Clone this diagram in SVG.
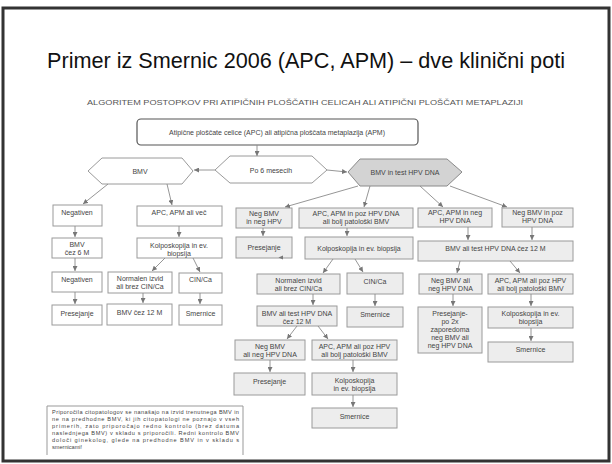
<svg xmlns="http://www.w3.org/2000/svg" width="612" height="464" viewBox="0 0 612 464">
<defs>
<style>
.t{font-family:"Liberation Sans",Arial,sans-serif;font-size:7px;fill:#444;text-anchor:middle}
.b{fill:#fff;stroke:#9a9a9a;stroke-width:1}
.g{fill:#ededed;stroke:#9a9a9a;stroke-width:1}
.c line{stroke:#8a8a8a;stroke-width:0.9;marker-end:url(#ah)}
</style>
<marker id="ah" viewBox="0 0 10 10" refX="10" refY="5" markerWidth="5" markerHeight="5" markerUnits="userSpaceOnUse" orient="auto">
<path d="M0,0 L10,5 L0,10 z" fill="#777"/>
</marker>
</defs>
<rect x="0" y="0" width="612" height="464" fill="#fff"/>
<rect x="3" y="8" width="606" height="453" fill="none" stroke="#333" stroke-width="3"/>
<text x="306" y="68" font-family="'Liberation Sans',Arial,sans-serif" font-size="22" fill="#111" text-anchor="middle" textLength="518" lengthAdjust="spacingAndGlyphs">Primer iz Smernic 2006 (APC, APM) – dve klinični poti</text>
<text x="305" y="105" font-family="'Liberation Sans',Arial,sans-serif" font-size="7.5" fill="#555" text-anchor="middle" textLength="436" lengthAdjust="spacingAndGlyphs">ALGORITEM POSTOPKOV PRI ATIPIČNIH PLOŠČATIH CELICAH ALI ATIPIČNI PLOŠČATI METAPLAZIJI</text>

<g id="top"><rect x="137" y="119" width="281" height="26" rx="4" fill="#fff" stroke="#555" stroke-width="1.2"/><text class="t" x="277" y="134.5">Atipične ploščate celice (APC) ali atipična ploščata metaplazija (APM)</text></g>
<g id="hexBMV"><polygon class="b" points="88,171 102,158 182,158 193,171 182,184 102,184"/><text class="t" x="140" y="173.5">BMV</text></g>
<g id="hexPo6"><polygon class="b" points="215,170 230,156 312,156 327,170 312,183 230,183"/><text class="t" x="271" y="172.5">Po 6 mesecih</text></g>
<g id="hexTest"><polygon fill="#d3d3d3" stroke="#8a8a8a" stroke-width="1" points="348,172 360,159 447,159 462,172 447,186 360,186"/><text class="t" x="405" y="174.5">BMV in test HPV DNA</text></g>

<g id="L1"><rect class="b" x="53" y="205" width="49" height="21"/><text class="t" x="77" y="215">Negativen</text></g>
<g id="L2"><rect class="b" x="137" y="206" width="85" height="20"/><text class="t" x="179" y="215">APC, APM ali  več</text></g>
<g id="L3"><rect class="b" x="52" y="238" width="50" height="20"/><text class="t" x="77" y="246.5">BMV</text><text class="t" x="77" y="254.5">čez 6 M</text></g>
<g id="L4"><rect class="b" x="52" y="272" width="50" height="20"/><text class="t" x="77" y="281.5">Negativen</text></g>
<g id="L5"><rect class="b" x="52" y="305" width="50" height="20"/><text class="t" x="77" y="315.5">Presejanje</text></g>
<g id="L6"><rect class="b" x="137" y="238" width="85" height="20"/><text class="t" x="179" y="247.5">Kolposkopija in ev.</text><text class="t" x="179" y="255.5">biopsija</text></g>
<g id="L7"><rect class="b" x="108" y="272" width="64" height="21"/><text class="t" x="140" y="280.5">Normalen izvid</text><text class="t" x="140" y="288.5">ali brez CIN/Ca</text></g>
<g id="L8"><rect class="b" x="179" y="273" width="43" height="20"/><text class="t" x="200.5" y="282">CIN/Ca</text></g>
<g id="L9"><rect class="b" x="107" y="304" width="65" height="21"/><text class="t" x="139.5" y="314.5">BMV čez 12 M</text></g>
<g id="L10"><rect class="b" x="179" y="305" width="43" height="20"/><text class="t" x="200.5" y="315.5">Smernice</text></g>

<g id="M1"><rect class="g" x="236" y="208" width="56" height="20"/><text class="t" x="264" y="215.5">Neg BMV</text><text class="t" x="264" y="223.5">in neg HPV</text></g>
<g id="M2"><rect class="g" x="299" y="208" width="114" height="20"/><text class="t" x="356" y="215.5">APC, APM in poz HPV DNA</text><text class="t" x="356" y="223.5">ali bolj patološki BMV</text></g>
<g id="M3"><rect class="g" x="236" y="237" width="56" height="21"/><text class="t" x="264" y="249.5">Presejanje</text></g>
<g id="M4"><rect class="g" x="305" y="237" width="108" height="22"/><text class="t" x="359" y="250.5">Kolposkopija in ev. biopsija</text></g>
<g id="M5"><rect class="g" x="257" y="274" width="83" height="20"/><text class="t" x="298.5" y="282.5">Normalen izvid</text><text class="t" x="298.5" y="290.5">ali brez CIN/Ca</text></g>
<g id="M6"><rect class="g" x="347" y="273" width="56" height="21"/><text class="t" x="375" y="283.5">CIN/Ca</text></g>
<g id="M7"><rect class="g" x="257" y="306" width="80" height="20"/><text class="t" x="297" y="315.5">BMV ali test HPV DNA</text><text class="t" x="297" y="323.5">čez 12  M</text></g>
<g id="M8"><rect class="g" x="347" y="307" width="56" height="20"/><text class="t" x="375" y="316.5">Smernice</text></g>
<g id="M9"><rect class="g" x="235" y="340" width="70" height="20"/><text class="t" x="270" y="348.5">Neg BMV</text><text class="t" x="270" y="356.5">ali neg HPV DNA</text></g>
<g id="M10"><rect class="g" x="312" y="340" width="85" height="20"/><text class="t" x="354.5" y="348.5">APC, APM ali poz HPV</text><text class="t" x="354.5" y="356.5">ali bolj patološki BMV</text></g>
<g id="M11"><rect class="g" x="234" y="373" width="71" height="22"/><text class="t" x="269.5" y="383.5">Presejanje</text></g>
<g id="M12"><rect class="g" x="312" y="373" width="85" height="22"/><text class="t" x="354.5" y="382.5">Kolposkopija</text><text class="t" x="354.5" y="390.5">in ev. biopsija</text></g>
<g id="M13"><rect class="g" x="312" y="408" width="85" height="20"/><text class="t" x="354.5" y="418.5">Smernice</text></g>

<g id="R1"><rect class="g" x="418" y="208" width="74" height="19"/><text class="t" x="455" y="215">APC, APM in neg</text><text class="t" x="455" y="223">HPV DNA</text></g>
<g id="R2"><rect class="g" x="502" y="208" width="71" height="19"/><text class="t" x="537.5" y="215">Neg BMV in poz</text><text class="t" x="537.5" y="223">HPV DNA</text></g>
<g id="R3"><rect class="g" x="418" y="241" width="155" height="20"/><text class="t" x="495.5" y="250.5">BMV ali test HPV DNA čez 12 M</text></g>
<g id="R4"><rect class="g" x="419" y="274" width="63" height="20"/><text class="t" x="450.5" y="282.5">Neg BMV ali</text><text class="t" x="450.5" y="290.5">neg HPV DNA</text></g>
<g id="R5"><rect class="g" x="488" y="274" width="85" height="20"/><text class="t" x="530.5" y="282.5">APC, APM ali poz HPV</text><text class="t" x="530.5" y="290.5">ali bolj patološki BMV</text></g>
<g id="R6"><rect class="g" x="418" y="307" width="64" height="46"/><text class="t" x="450" y="315.5">Presejanje-</text><text class="t" x="450" y="323.5">po 2x</text><text class="t" x="450" y="331.5">zaporedoma</text><text class="t" x="450" y="339.5">neg BMV ali</text><text class="t" x="450" y="347.5">neg HPV DNA</text></g>
<g id="R7"><rect class="g" x="488" y="307" width="85" height="21"/><text class="t" x="530.5" y="315.5">Kolposkopija in ev.</text><text class="t" x="530.5" y="323.5">biopsija</text></g>
<g id="R8"><rect class="g" x="488" y="342" width="85" height="20"/><text class="t" x="530.5" y="351.5">Smernice</text></g>

<g id="note"><path d="M47,455 V406 H243 V455" fill="#fff" stroke="#999" stroke-width="1"/>
<g font-family="'Liberation Sans',Arial,sans-serif" font-size="5.6" fill="#444">
<text x="52" y="414" textLength="187" lengthAdjust="spacing">Priporočila citopatologov se nanašajo na izvid trenutnega BMV in</text>
<text x="52" y="421" textLength="187" lengthAdjust="spacing">ne na predhodne BMV, ki jih citopatologi ne poznajo v vseh</text>
<text x="52" y="428" textLength="187" lengthAdjust="spacing">primerih, zato priporočajo redno kontrolo (brez datuma</text>
<text x="52" y="435" textLength="187" lengthAdjust="spacing">naslednjega BMV) v skladu s priporočili. Redni kontrolo BMV</text>
<text x="52" y="442" textLength="187" lengthAdjust="spacing">določi ginekolog, glede na predhodne BMV in v skladu s</text>
<text x="52" y="449">smernicami!</text>
</g></g>

<g id="connectors" class="c">
<line x1="257" y1="145" x2="257" y2="156"/>
<line x1="215" y1="170" x2="194" y2="170"/>
<line x1="327" y1="170" x2="347" y2="172"/>
<line x1="108" y1="184" x2="83" y2="204"/>
<line x1="167" y1="184" x2="172" y2="205"/>
<line x1="75" y1="226" x2="75" y2="237"/>
<line x1="75" y1="258" x2="75" y2="271"/>
<line x1="75" y1="292" x2="75" y2="304"/>
<line x1="179" y1="226" x2="179" y2="237"/>
<line x1="165" y1="258" x2="152" y2="271"/>
<line x1="193" y1="258" x2="200" y2="272"/>
<line x1="143" y1="293" x2="143" y2="303"/>
<line x1="200" y1="293" x2="200" y2="304"/>
<line x1="358" y1="186" x2="285" y2="207"/>
<line x1="370" y1="186" x2="364" y2="207"/>
<line x1="263" y1="228" x2="263" y2="236"/>
<line x1="347" y1="228" x2="347" y2="236"/>
<line x1="333" y1="259" x2="323" y2="273"/>
<line x1="355" y1="259" x2="363" y2="272"/>
<line x1="313" y1="294" x2="313" y2="305"/>
<line x1="375" y1="294" x2="375" y2="306"/>
<line x1="297" y1="326" x2="287" y2="339"/>
<line x1="318" y1="326" x2="328" y2="339"/>
<line x1="270" y1="360" x2="270" y2="372"/>
<line x1="353" y1="360" x2="353" y2="372"/>
<line x1="353" y1="395" x2="353" y2="407"/>
<line x1="420" y1="186" x2="443" y2="207"/>
<line x1="450" y1="186" x2="507" y2="207"/>
<line x1="468" y1="227" x2="468" y2="240"/>
<line x1="532" y1="227" x2="532" y2="240"/>
<line x1="460" y1="261" x2="457" y2="273"/>
<line x1="510" y1="261" x2="520" y2="273"/>
<line x1="453" y1="294" x2="453" y2="306"/>
<line x1="531" y1="294" x2="531" y2="306"/>
<line x1="531" y1="328" x2="531" y2="341"/>
<path d="M283,255.5 L278.5,257.5 L283,259.5 z" fill="#777"/>
</g>
</svg>
